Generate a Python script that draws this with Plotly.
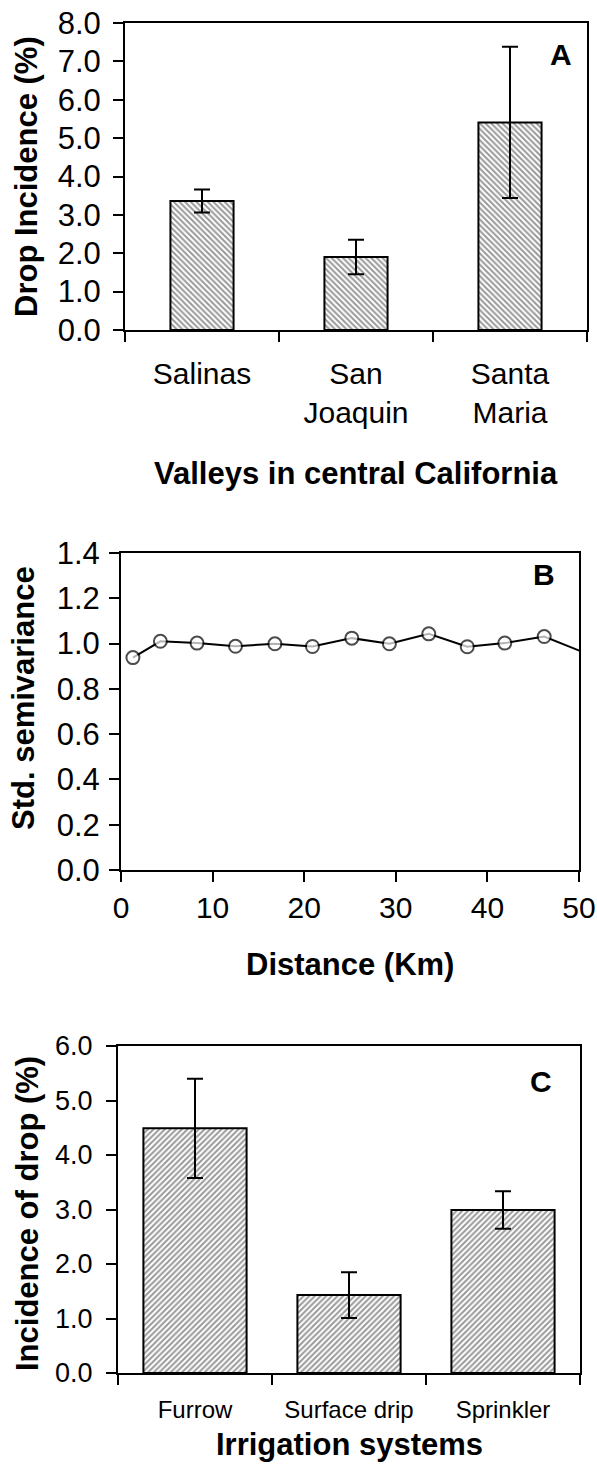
import plotly.graph_objects as go

W, H = 597, 1469

# ---- data ----
valleys = ["Salinas", "San<br>Joaquin", "Santa<br>Maria"]
valley_incidence = [3.36, 1.90, 5.41]
valley_err = [0.30, 0.45, 1.97]

lag_km = [1.3, 4.3, 8.3, 12.5, 16.8, 20.9, 25.2, 29.3, 33.6, 37.8, 41.9, 46.2, 50.4]
semivar = [0.938, 1.010, 1.002, 0.988, 0.999, 0.987, 1.024, 0.999, 1.043, 0.986, 1.002, 1.031, 0.963]

irrigation = ["Furrow", "Surface drip", "Sprinkler"]
irr_incidence = [4.49, 1.43, 2.99]
irr_err = [0.91, 0.42, 0.345]

FONT = "Arial, Liberation Sans, sans-serif"


def px_x(x):
    return x / W


def px_y(y):
    return 1 - y / H


def dom_x(a, b):
    return [px_x(a), px_x(b)]


def dom_y(top, bottom):
    return [px_y(bottom), px_y(top)]


fig = go.Figure()

pattern_common = dict(fgcolor="#333333", bgcolor="white", size=4, solidity=0.5)

fig.add_trace(go.Bar(
    x=valleys, y=valley_incidence, width=0.41,
    marker=dict(color="white", line=dict(color="black", width=2),
                pattern=dict(shape="\\", **pattern_common)),
    error_y=dict(type="data", array=valley_err, color="black", thickness=2, width=8),
    xaxis="x", yaxis="y",
))

sizes = [13] * (len(lag_km) - 1) + [0]
fig.add_trace(go.Scatter(
    x=lag_km, y=semivar, mode="lines+markers",
    line=dict(color="black", width=2),
    marker=dict(symbol="circle", size=sizes, color="white", line=dict(color="black", width=2)),
    xaxis="x2", yaxis="y2",
))

fig.add_trace(go.Bar(
    x=irrigation, y=irr_incidence, width=0.67,
    marker=dict(color="white", line=dict(color="black", width=2),
                pattern=dict(shape="/", **pattern_common)),
    error_y=dict(type="data", array=irr_err, color="black", thickness=2, width=8),
    xaxis="x3", yaxis="y3",
))

axis_common = dict(
    showline=True, linecolor="black", linewidth=2, mirror=True,
    ticks="outside", ticklen=10, tickwidth=2, tickcolor="black",
    showgrid=False, zeroline=False, color="black", automargin=False,
    ticklabeloverflow="allow",
)

fig.update_layout(
    width=W, height=H,
    margin=dict(l=0, r=0, t=0, b=0, autoexpand=False),
    paper_bgcolor="white", plot_bgcolor="white",
    showlegend=False,
    font=dict(family=FONT, color="black"),
    xaxis=dict(domain=dom_x(125, 587), anchor="y", type="category", range=[-0.5, 2.5],
               tickson="boundaries", tickfont=dict(size=30), ticklabelstandoff=16, **axis_common),
    yaxis=dict(domain=dom_y(23, 330), anchor="x", range=[0, 8], dtick=1, tickformat=".1f",
               tickfont=dict(size=31), ticklabelstandoff=6, **axis_common),
    xaxis2=dict(domain=dom_x(121, 579), anchor="y2", range=[0, 50], dtick=10,
                tickfont=dict(size=30), **axis_common),
    yaxis2=dict(domain=dom_y(553, 870), anchor="x2", range=[0, 1.4], dtick=0.2, tickformat=".1f",
                tickfont=dict(size=31), ticklabelstandoff=3, **axis_common),
    xaxis3=dict(domain=dom_x(118, 580), anchor="y3", type="category", range=[-0.5, 2.5],
                tickson="boundaries", tickfont=dict(size=24), ticklabelstandoff=14, **axis_common),
    yaxis3=dict(domain=dom_y(1046, 1373), anchor="x3", range=[0, 6], dtick=1, tickformat=".1f",
                tickfont=dict(size=27), ticklabelstandoff=8, **axis_common),
)


def ann(text, x, y, size, angle=0):
    fig.add_annotation(text=text, x=px_x(x), y=px_y(y), xref="paper", yref="paper",
                       showarrow=False, textangle=angle, xanchor="center", yanchor="middle",
                       font=dict(family=FONT, size=size, color="black"))


# axis titles
ann("<b>Valleys in central California</b>", 356, 474, 31)
ann("<b>Drop Incidence (%)</b>", 27, 177, 31, -90)
ann("<b>Distance (Km)</b>", 350, 964, 31)
ann("<b>Std. semivariance</b>", 23, 698, 31, -90)
ann("<b>Irrigation systems</b>", 349, 1444, 31)
ann("<b>Incidence of drop (%)</b>", 27, 1214, 31, -90)

# panel letters
ann("<b>A</b>", 561, 54, 30)
ann("<b>B</b>", 544, 574, 30)
ann("<b>C</b>", 541, 1081, 30)

# remove the browser's default body margin so the figure fills the window exactly
fig.write_html("out.html", config={"displayModeBar": False},
               post_script="document.body.style.margin='0';")
